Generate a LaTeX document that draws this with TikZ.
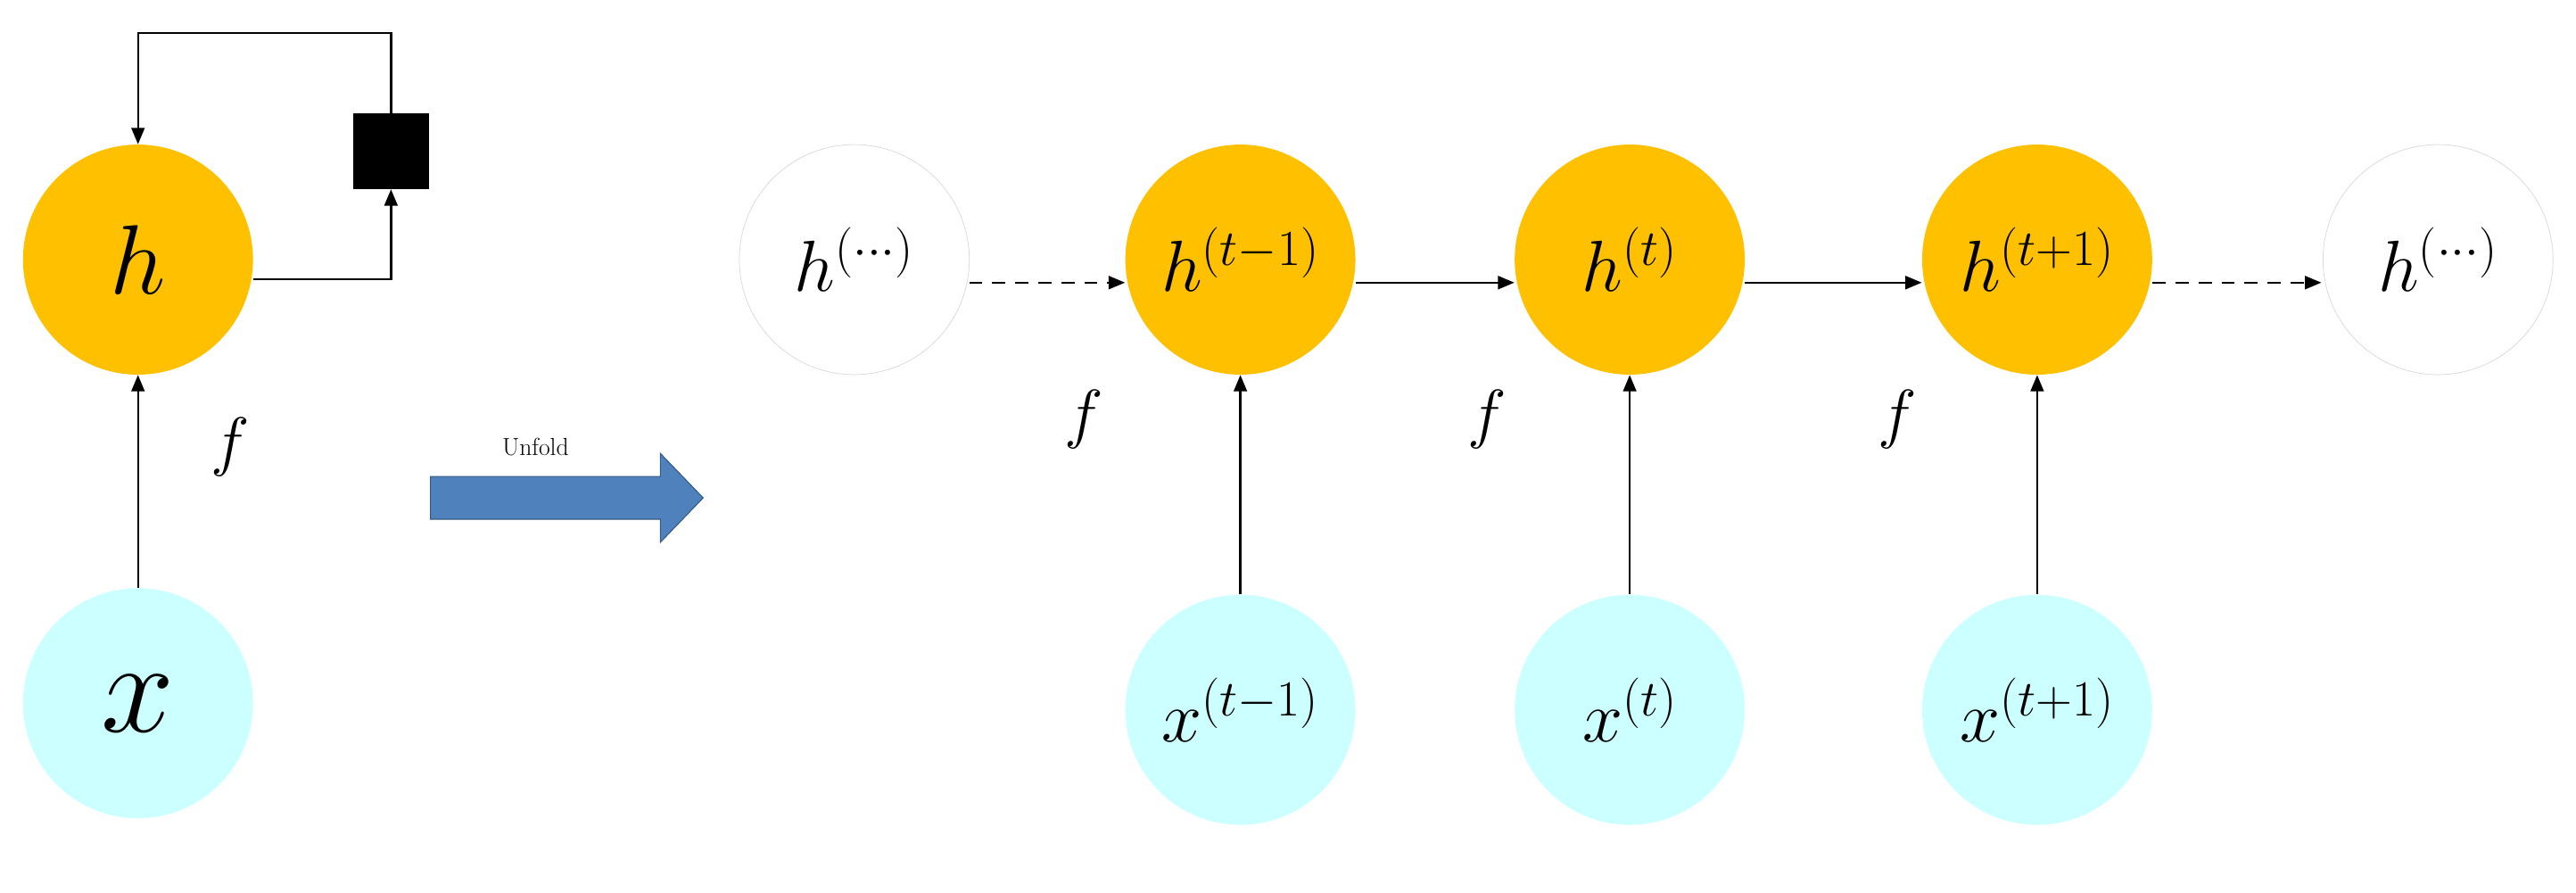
\RequirePackage{fix-cm}
\documentclass[tikz,border=0pt]{standalone}
\usepackage{fontspec}
\usetikzlibrary{arrows.meta}
\definecolor{hor}{HTML}{FFC000}
\definecolor{xcy}{HTML}{CCFFFF}
\definecolor{ublue}{HTML}{4F81BD}
\begin{document}
\begin{tikzpicture}[x=1pt,y=-1pt,
  hnode/.style={circle,fill=hor,minimum size=140pt,inner sep=0pt,font=\fontsize{44}{44}\selectfont},
  wnode/.style={circle,fill=white,draw=gray!30,minimum size=140pt,inner sep=0pt,font=\fontsize{44}{44}\selectfont},
  xnode/.style={circle,fill=xcy,minimum size=140pt,inner sep=0pt,font=\fontsize{44}{44}\selectfont},
  conn/.style={line width=1.3pt,-{Triangle[length=10pt,width=8pt]}},
  dconn/.style={conn,dash pattern=on 8pt off 6pt},
  flab/.style={font=\fontsize{40}{40}\selectfont}]
\useasboundingbox (0,0) rectangle (1568,543);
% left folded
\node[hnode,font=\fontsize{60}{60}\selectfont] (h) at (84,158) {$h$};
\node[xnode,font=\fontsize{80}{80}\selectfont] (x) at (84,428) {$x$};
\node[fill=black,minimum size=46pt,inner sep=0pt] (sq) at (238,92) {};
\draw[conn] (x) -- (h);
\draw[conn] (h.east |- 0,170) -| (sq.south);
\draw[conn] (sq.north) |- (84,20) -- (h.north);
\node[flab] (f0) at (140,272) {$f$};
% unfold arrow
\draw[draw=ublue!70!black,fill=ublue,line width=0.6pt] (262,290) -- (402,290) -- (402,276) -- (428,303) -- (402,330) -- (402,316) -- (262,316) -- cycle;
\node[font=\fontsize{15}{15}\selectfont] (unf) at (326,272) {Unfold};
% unfolded
\node[wnode] (h0) at (520,158) {$h^{(\cdots)}$};
\node[hnode] (h1) at (755,158) {$h^{(t-1)}$};
\node[hnode] (h2) at (992,158) {$h^{(t)}$};
\node[hnode] (h3) at (1240,158) {$h^{(t+1)}$};
\node[wnode] (h4) at (1484,158) {$h^{(\cdots)}$};
\node[xnode] (x1) at (755,432) {$x^{(t-1)}$};
\node[xnode] (x2) at (992,432) {$x^{(t)}$};
\node[xnode] (x3) at (1240,432) {$x^{(t+1)}$};
\draw[dconn] (590,172) -- (h1.west |- 0,172);
\draw[conn] (h1.east |- 0,172) -- (h2.west |- 0,172);
\draw[conn] (h2.east |- 0,172) -- (h3.west |- 0,172);
\draw[dconn] (h3.east |- 0,172) -- (1413,172);
\draw[conn] (x1) -- (h1);
\draw[conn] (x2) -- (h2);
\draw[conn] (x3) -- (h3);
\node[flab] (f1) at (660,255) {$f$};
\node[flab] (f2) at (905,255) {$f$};
\node[flab] (f3) at (1155,255) {$f$};
\end{tikzpicture}
\end{document}
